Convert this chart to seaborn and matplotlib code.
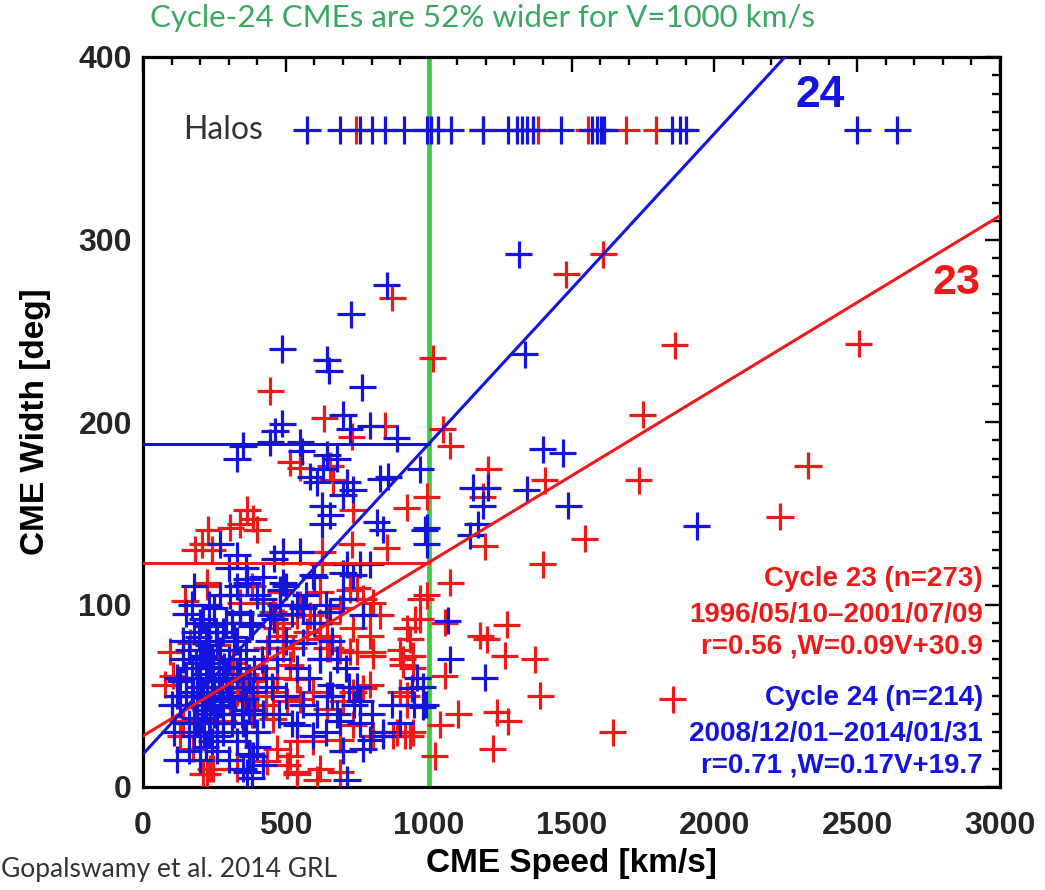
import numpy as np
import pandas as pd
import matplotlib
matplotlib.use("Agg")
import matplotlib.pyplot as plt
from matplotlib.ticker import MultipleLocator
import seaborn as sns

# ---------------- data ----------------
# Cycle 23 CMEs (speed km/s, width deg)
c23_speed = [1481, 1611, 872, 1015, 445, 634, 1050, 847, 731, 1075, 515, 550, 655, 665, 1208, 1407, 1190,
             994, 924, 735, 1547, 1400, 1197, 854, 731, 627, 627, 1862, 2506, 1750, 1736, 2328, 2230, 1855, 1645,
             364, 385, 340, 399, 305, 228, 207, 182, 242, 224,
             1075, 970, 1057, 1180, 1274, 1204, 1267, 1372, 1057, 1390, 1103, 1239, 1278, 1225, 1022, 1040, 924,
             910, 945, 924, 952, 917, 875, 945,
             147, 224, 382, 340, 480, 550, 620, 690, 749, 805, 830, 735, 795, 644, 690, 749, 805, 900, 935, 970, 994,
             945, 469, 490, 434, 515, 574, 620, 539, 595, 455, 399, 329, 305, 350, 504, 550, 644, 735, 795, 900, 924,
             889, 935, 735, 805, 690, 595, 539, 515, 620, 690, 539, 434, 375, 329, 224, 245, 175, 130, 105, 95, 165,
             259, 315, 340, 375, 294, 280, 140, 455, 490, 539, 455, 420, 644,
             490, 585, 644, 724, 770, 795, 525, 620, 655, 724, 805, 910, 700, 770, 609, 539, 504, 469, 235, 210, 77,
             400, 430, 470, 360, 420, 380, 310]
c23_width = [281, 292, 268, 235, 217, 202, 196, 198, 192, 187, 178, 175, 176, 168, 174, 168, 159,
             159, 153, 152, 136, 122, 132, 131, 133, 129, 122, 242, 243, 204, 168, 176, 148, 48, 30,
             152, 147, 144, 141, 142, 141, 133, 130, 130, 112,
             112, 103, 90, 83, 89, 81, 72, 70, 61, 50, 40, 41, 36, 21, 17, 34, 50,
             67, 72, 87, 92, 28, 28, 30,
             102, 110, 110, 101, 107, 100, 107, 98, 109, 101, 94, 87, 83, 76, 75, 74, 74, 75, 81, 92, 105,
             65, 87, 76, 76, 67, 85, 90, 59, 52, 52, 50, 52, 47, 47, 47, 48, 43, 52, 56, 52, 45,
             30, 28, 34, 28, 26, 25, 25, 17, 10, 8, 8, 14, 17, 10, 7, 10, 21, 28, 61, 74, 79,
             78, 68, 58, 58, 54, 36, 36, 37, 83, 94, 96, 101, 83,
             90, 94, 90, 108, 103, 94, 76, 81, 76, 74, 72, 70, 47, 54, 4, 7, 12, 21, 10, 7, 56,
             55, 45, 60, 62, 65, 40, 62]

# Cycle 24 CMEs (speed km/s, width deg)
c24_speed = [1316, 854, 728, 487, 644, 651, 1337, 767, 700, 487, 795, 724, 462, 889, 350, 329, 445, 550, 556,
             644, 679, 630, 585, 609, 714, 735, 700, 830, 858, 970, 627, 655, 627, 819, 840, 994, 994, 987, 270,
             329, 490, 550, 595, 714, 760, 795, 700, 735, 364, 490,
             1400, 1470, 1155, 1207, 1343, 1190, 1488, 1145, 1172, 1939, 1067, 1075, 1197, 980, 980, 941,
             364, 305, 340, 420, 480, 375, 445, 560, 655, 700, 770, 560, 620, 655, 644, 760, 795, 840, 770, 690,
             714, 595, 539, 364, 385, 420, 119,
             130, 150, 160, 175, 180, 185, 195, 200, 205, 210, 215, 220, 225, 230, 235, 240, 245, 250, 255, 260,
             265, 270, 275, 280, 285, 290, 295, 300, 310, 320, 330, 340, 350, 360, 370, 380, 390, 400, 160, 180,
             200, 220, 260, 300, 330, 350, 360, 370, 380, 400, 420, 430, 440, 460, 470, 500, 520, 540, 560, 580,
             600, 610, 620, 640, 660, 680, 700, 720, 740, 760, 150, 180, 230, 270, 300, 330, 360, 400, 420, 460,
             480, 500, 520, 110, 120, 100, 140, 170, 210, 250, 190, 230, 280, 310, 345, 385, 415, 450, 475, 500,
             540, 570, 600, 640, 660, 680, 710, 750, 800, 840, 870, 900, 950, 960, 990,
             170, 190, 210, 230, 250, 270, 290, 200, 220, 240, 260, 180, 200, 230, 250, 210, 190, 170, 150, 160,
             240, 260, 280, 300, 320, 340, 330, 310, 280, 350, 370, 360, 390, 140, 120, 130, 200, 220, 245, 265]
c24_width = [292, 275, 259, 240, 234, 228, 237, 219, 204, 199, 198, 196, 195, 191, 187, 180, 189, 189, 184,
             182, 180, 174, 170, 167, 167, 163, 160, 169, 170, 174, 154, 149, 144, 145, 141, 142, 133, 141, 133,
             127, 129, 129, 116, 122, 122, 122, 117, 116, 114, 112,
             185, 183, 164, 164, 163, 154, 154, 138, 144, 143, 91, 70, 60, 44, 55, 54,
             112, 105, 96, 103, 108, 90, 94, 98, 96, 103, 94, 79, 70, 56, 50, 47, 26, 28, 21, 36,
             4, 28, 34, 8, 17, 12, 15,
             45, 60, 75, 52, 38, 68, 82, 55, 45, 72, 30, 62, 50, 78, 40, 58, 68, 48, 85, 35,
             62, 75, 52, 44, 66, 90, 58, 70, 48, 82, 62, 95, 55, 75, 42, 88, 65, 30, 20, 28,
             15, 22, 20, 15, 25, 10, 30, 18, 5, 22, 40, 60, 80, 92, 70, 50, 35, 65, 45, 60,
             90, 40, 70, 30, 50, 40, 20, 55, 45, 35, 95, 110, 100, 105, 120, 110, 120, 105, 115, 125,
             100, 110, 95, 30, 60, 45, 80, 100, 92, 98, 35, 30, 30, 35, 40, 52, 70, 55, 40, 80,
             100, 105, 115, 100, 80, 70, 65, 55, 40, 30, 45, 35, 45, 60, 45,
             50, 60, 50, 65, 55, 45, 60, 70, 80, 70, 80, 85, 90, 88, 40, 38, 45, 65, 50, 35,
             25, 28, 65, 50, 40, 70, 80, 90, 85, 35, 60, 48, 40, 70, 50, 58, 30, 42, 47, 55]

# Halo CMEs (plotted at a nominal width)
halo_width = 360
c23_halo_speed = [746, 1190, 1383, 1558, 1691, 1796]
c24_halo_speed = [574, 690, 760, 802, 847, 914, 994, 1008, 1033, 1078, 1190, 1278, 1309, 1327, 1344, 1365,
                  1463, 1572, 1589, 1603, 1614, 1852, 1880, 1900, 2500, 2640]

# Linear fits W = a*V + b
fit23 = (0.095, 28.0)
fit24 = (0.170, 18.0)
v_ref = 1000

RED = "#ee1a1a"
BLUE = "#1414dc"
GREEN_LINE = "#3ccc3c"
GREEN_TEXT = "#3aa862"

# ---------------- figure ----------------
sns.set_theme(style="white")
plt.rcParams["font.family"] = ["Liberation Sans", "DejaVu Sans"]

fig = plt.figure(figsize=(10.45, 8.9), dpi=100)
ax = fig.add_axes([143 / 1045, 1 - 787 / 890, 857 / 1045, 730 / 890])

df = pd.concat([
    pd.DataFrame({"speed": c23_speed, "width": c23_width, "cycle": "23"}),
    pd.DataFrame({"speed": c24_speed, "width": c24_width, "cycle": "24"}),
    pd.DataFrame({"speed": c23_halo_speed, "width": halo_width, "cycle": "23"}),
    pd.DataFrame({"speed": c24_halo_speed, "width": halo_width, "cycle": "24"}),
], ignore_index=True)

pal = {"23": RED, "24": BLUE}
sns.scatterplot(data=df, x="speed", y="width", hue="cycle", palette=pal, marker="+",
                s=380, linewidth=2.3, legend=False, ax=ax, zorder=3)

# green reference line
ax.axvline(v_ref, color=GREEN_LINE, lw=3.4, zorder=2)

# fit lines
v = np.array([0, 3000])
for (a, b), col in [(fit23, RED), (fit24, BLUE)]:
    ax.plot(v, a * v + b, color=col, lw=2.2, zorder=4)
    ax.plot([0, v_ref], [a * v_ref + b] * 2, color=col, lw=2.2, zorder=4)

ax.set_xlim(0, 3000)
ax.set_ylim(0, 400)
ax.xaxis.set_major_locator(MultipleLocator(500))
ax.xaxis.set_minor_locator(MultipleLocator(100))
ax.yaxis.set_major_locator(MultipleLocator(100))
ax.yaxis.set_minor_locator(MultipleLocator(10))
ax.tick_params(which="both", direction="in", top=True, right=True, color="black", width=1.7)
ax.tick_params(which="major", length=11)
ax.tick_params(which="minor", length=6)
ax.tick_params(axis="x", which="major", pad=17, labelsize=23)
ax.tick_params(axis="y", which="major", pad=8, labelsize=23)
for lab in ax.get_xticklabels() + ax.get_yticklabels():
    lab.set_fontweight("bold")
for s in ax.spines.values():
    s.set_color("black")
    s.set_linewidth(2.3)

ax.set_xlabel("CME Speed [km/s]", fontsize=24, fontweight="bold", color="black")
ax.set_ylabel("CME Width [deg]", fontsize=24, fontweight="bold", color="black")
ax.xaxis.set_label_coords(0.5, -0.083)
ax.yaxis.set_label_coords(-0.107, 0.5)

# annotations
ax.text(140, halo_width, "Halos", fontsize=23, color="#333333", ha="left", va="center",
        family=["Lato", "DejaVu Sans"])
ax.text(2285, 379, "24", fontsize=32, fontweight="bold", color=BLUE, ha="left", va="center")
ax.text(2765, 276, "23", fontsize=31, fontweight="bold", color=RED, ha="left", va="center")

rx = 2940
lines = [
    ("Cycle 23 (n=273)", 114, RED),
    ("1996/05/10\u20132001/07/09", 94, RED),
    ("r=0.56 ,W=0.09V+30.9", 77, RED),
    ("Cycle 24 (n=214)", 49, BLUE),
    ("2008/12/01\u20132014/01/31", 29, BLUE),
    ("r=0.71 ,W=0.17V+19.7", 12, BLUE),
]
for txt, y, col in lines:
    ax.text(rx, y, txt, fontsize=20, fontweight="bold", color=col, ha="right", va="center")

fig.text(150 / 1045, 1 - 18 / 890, "Cycle-24 CMEs are 52% wider for V=1000 km/s", fontsize=22.5,
         color=GREEN_TEXT, ha="left", va="center", family=["Lato", "DejaVu Sans"])
fig.text(1 / 1045, 1 - 870 / 890, "Gopalswamy et al. 2014 GRL", fontsize=19, color="#333333",
         ha="left", va="center", family=["Lato", "DejaVu Sans"])

fig.savefig("out.png", dpi=100)
